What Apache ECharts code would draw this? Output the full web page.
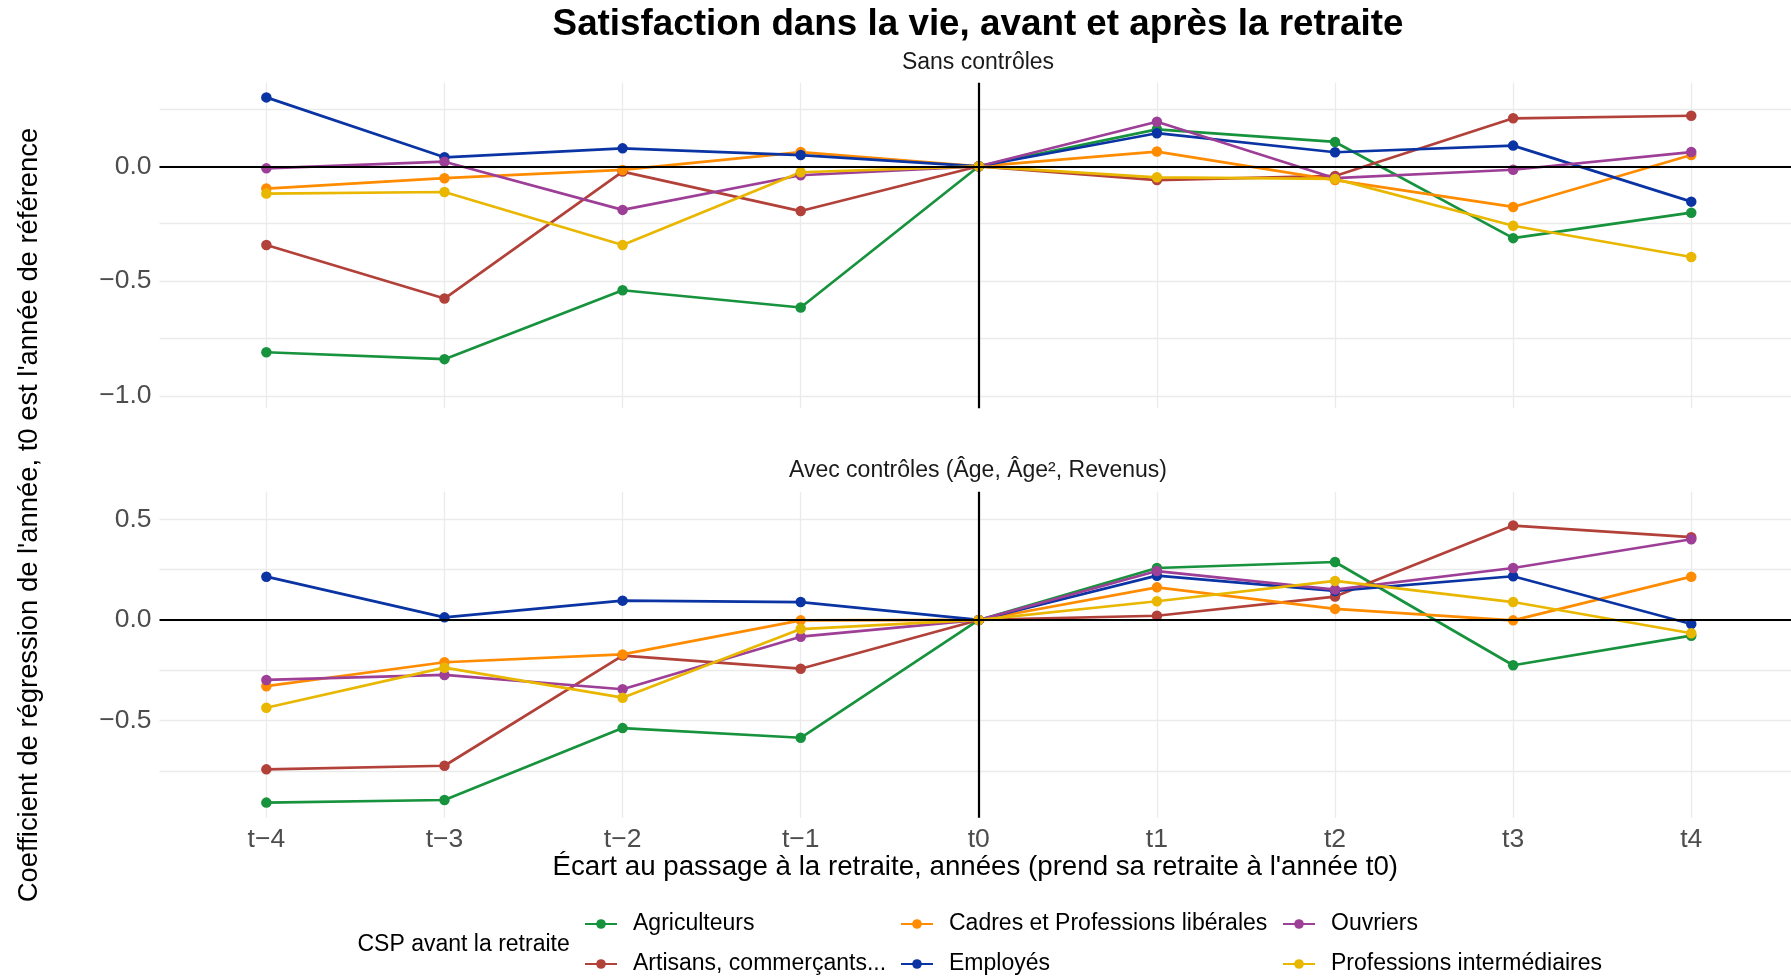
<!DOCTYPE html>
<html>
<head>
<meta charset="utf-8">
<script src="https://cdn.jsdelivr.net/npm/echarts@6/dist/echarts.min.js"></script>
<style>
html,body{margin:0;padding:0;background:#fff;}
#chart{width:1791px;height:977px;}
</style>
</head>
<body>
<div id="chart"></div>
<script>
// ---- Data ----
var xLabels = ['t\u22124','t\u22123','t\u22122','t\u22121','t0','t1','t2','t3','t4'];
var categories = ['Agriculteurs','Artisans, commer\u00e7ants...','Cadres et Professions lib\u00e9rales','Employ\u00e9s','Ouvriers','Professions interm\u00e9diaires'];
var panelTitles = ['Sans contr\u00f4les', 'Avec contr\u00f4les (\u00c2ge, \u00c2ge\u00b2, Revenus)'];

// Panel 1: Sans contrôles
var agriSans = [-0.810, -0.840, -0.540, -0.615, 0, 0.161, 0.106, -0.313, -0.202];
var artiSans = [-0.343, -0.576, -0.023, -0.195, 0, -0.060, -0.042, 0.209, 0.220];
var cadrSans = [-0.097, -0.052, -0.016, 0.062, 0, 0.064, -0.060, -0.177, 0.049];
var emplSans = [0.300, 0.039, 0.078, 0.049, 0, 0.144, 0.061, 0.090, -0.154];
var ouvrSans = [-0.009, 0.020, -0.190, -0.039, 0, 0.194, -0.052, -0.015, 0.062];
var profSans = [-0.119, -0.112, -0.343, -0.026, 0, -0.048, -0.055, -0.259, -0.395];

// Panel 2: Avec contrôles
var agriAvec = [-0.907, -0.894, -0.537, -0.585, 0, 0.258, 0.288, -0.225, -0.078];
var artiAvec = [-0.742, -0.724, -0.177, -0.242, 0, 0.021, 0.116, 0.469, 0.411];
var cadrAvec = [-0.329, -0.210, -0.171, -0.002, 0, 0.162, 0.055, -0.002, 0.215];
var emplAvec = [0.215, 0.013, 0.096, 0.089, 0, 0.220, 0.144, 0.217, -0.020];
var ouvrAvec = [-0.298, -0.273, -0.344, -0.083, 0, 0.243, 0.151, 0.258, 0.401];
var profAvec = [-0.436, -0.237, -0.386, -0.045, 0, 0.093, 0.194, 0.089, -0.066];

// Tick values
var xTicks = [1,2,3,4,5,6,7,8,9];
var yGrid1 = [-1, -0.75, -0.5, -0.25, 0, 0.25];
var yLabels1 = [-1, -0.5, 0];
var yGrid2 = [-0.75, -0.5, -0.25, 0, 0.25, 0.5];
var yLabels2 = [-0.5, 0, 0.5];

// ---- Styles ----
var colors = ['#17923D', '#B2413A', '#FF8C00', '#0A34A3', '#9E3F97', '#E9B700'];
var FONT = '"Liberation Sans", Arial, Helvetica, sans-serif';
var panelSans = [agriSans, artiSans, cadrSans, emplSans, ouvrSans, profSans];
var panelAvec = [agriAvec, artiAvec, cadrAvec, emplAvec, ouvrAvec, profAvec];

function pts(arr) { return arr.map(function (v, i) { return [xTicks[i], v]; }); }
function yFmt(v) {
  var s = Math.abs(v).toFixed(1);
  return (v < 0 ? '\u2212' : '') + s;
}

var gridLeft = 159.5, gridWidth = 1631.5;
var grids = [
  {left: gridLeft, top: 82.7, width: gridWidth, height: 325.6, outerBoundsMode: 'none'},
  {left: gridLeft, top: 491.7, width: gridWidth, height: 326, outerBoundsMode: 'none'}
];

function xAxisFor(idx, showLabels) {
  return {
    type: 'value', gridIndex: idx, min: 0.4, max: 9.56,
    axisLine: {show: false},
    axisTick: {show: false, customValues: xTicks},
    splitLine: {show: true, lineStyle: {color: '#EBEBEB', width: 1.3}},
    axisLabel: {
      show: showLabels, customValues: xTicks, margin: 8,
      fontSize: 26.5, color: '#4D4D4D', fontFamily: FONT,
      formatter: function (v) { return xLabels[Math.round(v) - 1] || ''; }
    },
    name: showLabels ? '\u00c9cart au passage \u00e0 la retraite, ann\u00e9es (prend sa retraite \u00e0 l\'ann\u00e9e t0)' : '',
    nameLocation: 'middle', nameGap: 35,
    nameTextStyle: {fontSize: 27.7, color: '#000', fontFamily: FONT}
  };
}
function yAxisFor(idx, mn, mx, gridVals, labelVals) {
  return {
    type: 'value', gridIndex: idx, min: mn, max: mx,
    axisLine: {show: false},
    axisTick: {show: false, customValues: gridVals},
    splitLine: {show: true, lineStyle: {color: '#EBEBEB', width: 1.3}},
    axisLabel: {
      customValues: labelVals, margin: 8,
      fontSize: 26.5, color: '#4D4D4D', fontFamily: FONT,
      formatter: yFmt
    }
  };
}

var series = [];
// reference lines
[0, 1].forEach(function (g) {
  series.push({
    type: 'line', xAxisIndex: g, yAxisIndex: g, data: [], z: 1, silent: true,
    markLine: {
      silent: true, symbol: ['none', 'none'], label: {show: false},
      lineStyle: {color: '#000', width: 2.2, type: 'solid'},
      data: [{xAxis: 5}, {yAxis: 0}]
    }
  });
});
[panelSans, panelAvec].forEach(function (panel, g) {
  panel.forEach(function (arr, k) {
    series.push({
      name: categories[k], type: 'line', xAxisIndex: g, yAxisIndex: g,
      data: pts(arr), z: 3,
      symbol: 'circle', symbolSize: 10.5, showSymbol: true,
      lineStyle: {width: 2.7, color: colors[k]},
      itemStyle: {color: colors[k]},
      emphasis: {disabled: true}
    });
  });
});

function legendFor(names, left) {
  return {
    orient: 'vertical', left: left, top: 912, padding: 0,
    itemWidth: 32, itemHeight: 12, itemGap: 16,
    data: names, selectedMode: false,
    textStyle: {fontSize: 23, lineHeight: 24, color: '#000', fontFamily: FONT, padding: [0, 0, 0, 11]}
  };
}

var option = {
  animation: false,
  color: colors,
  grid: grids,
  xAxis: [xAxisFor(0, false), xAxisFor(1, true)],
  yAxis: [yAxisFor(0, -1.054, 0.364, yGrid1, yLabels1), yAxisFor(1, -0.982, 0.637, yGrid2, yLabels2)],
  legend: [
    legendFor([categories[0], categories[1]], 584),
    legendFor([categories[2], categories[3]], 900),
    legendFor([categories[4], categories[5]], 1282)
  ],
  graphic: [
    {type: 'text', x: 978, y: 25, style: {text: 'Satisfaction dans la vie, avant et apr\u00e8s la retraite', fontSize: 36.8, fontWeight: 'bold', fontFamily: FONT, fill: '#000', textAlign: 'center', textVerticalAlign: 'middle'}},
    {type: 'text', x: 978, y: 63, style: {text: panelTitles[0], fontSize: 23, fontFamily: FONT, fill: '#1A1A1A', textAlign: 'center', textVerticalAlign: 'middle'}},
    {type: 'text', x: 978, y: 471, style: {text: panelTitles[1], fontSize: 23, fontFamily: FONT, fill: '#1A1A1A', textAlign: 'center', textVerticalAlign: 'middle'}},
    {type: 'text', x: 29, y: 515, rotation: Math.PI / 2, style: {text: 'Coefficient de r\u00e9gression de l\'ann\u00e9e, t0 est l\'ann\u00e9e de r\u00e9f\u00e9rence', fontSize: 27.4, fontFamily: FONT, fill: '#000', textAlign: 'center', textVerticalAlign: 'middle'}},
    {type: 'text', x: 357.5, y: 945, style: {text: 'CSP avant la retraite', fontSize: 23, fontFamily: FONT, fill: '#000', textAlign: 'left', textVerticalAlign: 'middle'}}
  ],
  series: series
};

var chart = echarts.init(document.getElementById('chart'), null, {renderer: 'canvas'});
chart.setOption(option);
</script>
</body>
</html>
